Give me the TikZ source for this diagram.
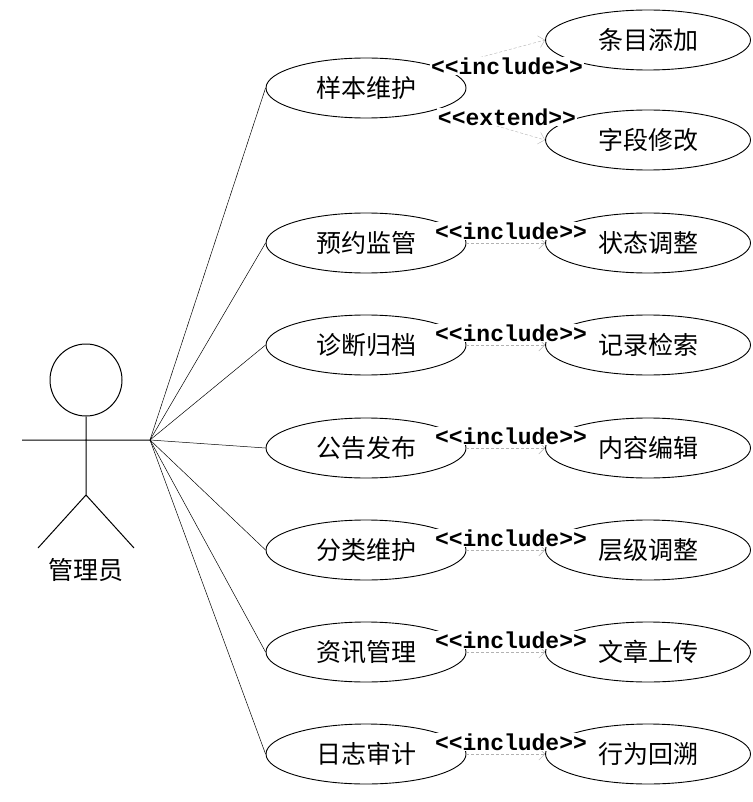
\documentclass[tikz,border=0pt]{standalone}
\usepackage{fontspec}
\setmonofont{Liberation Mono}
\newfontfamily\cjk{Noto Sans CJK SC}
\usetikzlibrary{shapes.geometric,arrows.meta}
\begin{document}
\begin{tikzpicture}[x=1pt,y=-1pt,
 uc/.style={ellipse,draw,line width=0.9pt,minimum width=200pt,minimum height=60pt,inner sep=0pt,font=\cjk\fontsize{25}{25}\selectfont},
 rel/.style={draw=gray!60,densely dashed,line width=0.4pt,-{Straight Barb[length=6pt]}},
 lab/.style={font=\ttfamily\bfseries\fontsize{23}{23}\selectfont},
 assoc/.style={line width=0.5pt}]
\useasboundingbox (0,0) rectangle (752,802);
\fill[white] (0,0) rectangle (752,802);
% actor
\node[circle,draw,line width=1pt,minimum size=72pt,inner sep=0pt] (head) at (86,380) {};
\coordinate (neck) at (86,416);
\coordinate (hip) at (86,495);
\coordinate (la) at (22,440);
\coordinate (ra) at (150,440);
\coordinate (ll) at (38,548);
\coordinate (rl) at (134,548);
\draw[line width=1pt] (head.south) -- (hip) (la) -- (ra) (ll) -- (hip) -- (rl);
\node[font=\cjk\fontsize{25}{25}\selectfont] (actor) at (86,570) {管理员};
% left use cases
\foreach \n/\t/\y in {a/样本维护/88,b/预约监管/243,c/诊断归档/345,d/公告发布/448,e/分类维护/550,f/资讯管理/652,g/日志审计/754}{
  \node[uc] (\n) at (366,\y) {\t};
  \draw[assoc] (ra) -- (\n.west);
}
% right use cases
\node[uc,minimum width=205pt] (a1) at (648,40) {条目添加};
\node[uc,minimum width=205pt] (a2) at (648,140) {字段修改};
\foreach \n/\t/\y in {b/状态调整/243,c/记录检索/345,d/内容编辑/448,e/层级调整/550,f/文章上传/652,g/行为回溯/754}{
  \node[uc,minimum width=205pt] (\n r) at (648,\y) {\t};
  \draw[rel] (\n) -- (\n r);
  \node[lab,fill=white,inner sep=1pt] (l\n) at (511,\y-12) {<{}<include>{}>};
}
\draw[rel] (a) -- (a1.west);
\draw[rel] (a) -- (a2.west);
\node[lab,fill=white,inner sep=1pt] (la1) at (507,66) {<{}<include>{}>};
\node[lab,fill=white,inner sep=1pt] (la2) at (507,117) {<{}<extend>{}>};
\end{tikzpicture}
\end{document}
